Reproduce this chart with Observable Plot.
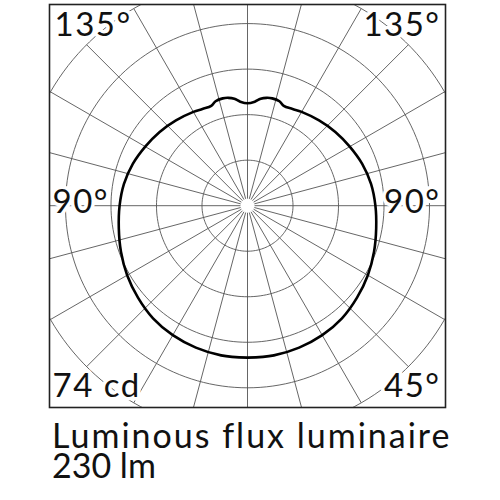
<!DOCTYPE html>
<html>
<head>
<meta charset="utf-8">
<script src="https://cdn.jsdelivr.net/npm/d3@7"></script>
<script src="https://cdn.jsdelivr.net/npm/@observablehq/plot@0.6"></script>
<style>
  html, body { margin: 0; padding: 0; background: #fff; }
  #chart svg { display: block; }
  .caption { font-family: Lato, "Noto Sans", sans-serif; font-size: 34px; line-height: 30px; height: 30px; color: #111; margin-left: 52px; white-space: nowrap; }
  .caption.l1 { letter-spacing: 2px; }
</style>
</head>
<body>
<div id="chart"></div>
<div class="caption l1">Luminous flux luminaire</div>
<div class="caption l2">230 lm</div>
<script>
// Polar angle from nadir (degrees), one half-plane, mirrored to the other side
const angles = [0, 10, 20, 30, 40, 50, 60, 70, 80, 90, 100, 110, 120, 130, 140, 150, 155, 160, 163, 167, 170, 173, 176, 180];
// Luminous intensity (cd)
const intensity = [49.4, 49.4, 49.1, 48.6, 47.8, 46.5, 45.2, 43.8, 42.5, 41.6, 40.8, 39.7, 38.4, 37.3, 36.2, 35.2, 34.7, 34.5, 35.5, 35.8, 35.6, 35.0, 33.9, 33.3];
// Grid rings (cd) and radial grid angles (deg)
const rings = [14.8, 29.6, 44.4, 59.2, 74];
const gridAngles = [0, 15, 30, 45, 60, 75, 90, 105, 120, 135, 150, 165, 180, 195, 210, 225, 240, 255, 270, 285, 300, 315, 330, 345];
const hubRadius = 2.3;
// Corner / side labels
const labelTopLeft = "135°", labelTopRight = "135°";
const labelLeft = "90°", labelRight = "90°";
const labelBottomLeft = "74 cd", labelBottomRight = "45°";

const rad = d => d * Math.PI / 180;
const toXY = (theta, r) => ({x: r * Math.sin(rad(theta)), y: -r * Math.cos(rad(theta))});

// closed curve: right half 0->180, left half 180->0
const curve = [];
angles.forEach((a, i) => curve.push(toXY(a, intensity[i])));
for (let i = angles.length - 2; i >= 0; i--) curve.push(toXY(-angles[i], intensity[i]));

// ring polylines
const ringPts = [];
rings.forEach(r => { for (let a = 0; a <= 360; a += 2) ringPts.push({...toXY(a, r), ring: r}); });

// radial spokes
const spokes = gridAngles.map(a => {
  const p1 = toXY(a, hubRadius), p2 = toXY(a, rings[rings.length - 1]);
  return {x1: p1.x, y1: p1.y, x2: p2.x, y2: p2.y};
});

const font = "Lato, 'Noto Sans', sans-serif";
const lab = (t, anchor, opts) => Plot.text([t], {text: d => d, frameAnchor: anchor, fontSize: 33, fontFamily: font, fill: "#111", stroke: "white", strokeWidth: 7, paintOrder: "stroke", ...opts});

const chart = Plot.plot({
  width: 500, height: 420,
  marginLeft: 49, marginRight: 55, marginTop: 4, marginBottom: 13,
  x: {domain: [-64.4, 64.4], axis: null},
  y: {domain: [-65.6, 65.4], axis: null},
  style: {background: "white"},
  marks: [
    Plot.line(ringPts, {x: "x", y: "y", z: "ring", stroke: "#555", strokeWidth: 0.9, clip: true}),
    Plot.link(spokes, {x1: "x1", y1: "y1", x2: "x2", y2: "y2", stroke: "#555", strokeWidth: 0.9, clip: true}),
    Plot.line(curve, {x: "x", y: "y", stroke: "#000", strokeWidth: 2.6, curve: "catmull-rom"}),
    lab(labelTopLeft, "top-left", {textAnchor: "start", lineAnchor: "top", dx: 5, dy: 8}),
    lab(labelTopRight, "top-right", {textAnchor: "end", lineAnchor: "top", dx: -5, dy: 8}),
    lab(labelLeft, "left", {textAnchor: "start", lineAnchor: "middle", dx: 3, dy: -4}),
    lab(labelRight, "right", {textAnchor: "end", lineAnchor: "middle", dx: -5, dy: -4}),
    lab(labelBottomLeft, "bottom-left", {textAnchor: "start", lineAnchor: "bottom", dx: 3, dy: -11}),
    lab(labelBottomRight, "bottom-right", {textAnchor: "end", lineAnchor: "bottom", dx: -5, dy: -11}),
    Plot.frame({stroke: "#222", strokeWidth: 1.6})
  ]
});
chart.querySelectorAll("text").forEach(t => t.style.letterSpacing = "1.5px");
document.getElementById("chart").append(chart);
</script>
</body>
</html>
